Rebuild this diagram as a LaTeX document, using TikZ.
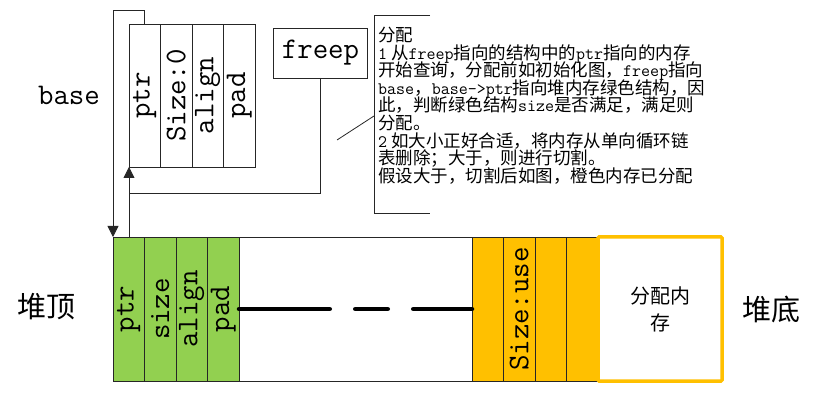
\documentclass[tikz,border=0pt]{standalone}
\usepackage{fontspec}
\newfontfamily\cjk{Noto Sans CJK SC}
\usepackage{xcolor}
\usetikzlibrary{arrows.meta,positioning}
\definecolor{cellgreen}{HTML}{92D050}
\definecolor{cellgold}{HTML}{FFC000}
\definecolor{wireink}{HTML}{262626}
\newcommand{\lt}[1]{{\ttfamily #1}}
\lineskiplimit=-20pt
\tikzset{
  field/.style={draw=wireink, line width=0.8pt, minimum width=31.5pt, minimum height=143pt, inner sep=0pt, outer sep=0pt, font=\ttfamily\fontsize{30}{30}\selectfont},
  heapcell/.style={field, minimum height=144pt, fill=cellgreen},
  usedcell/.style={heapcell, fill=cellgold},
  tagtext/.style={font=\ttfamily\fontsize{30}{30}\selectfont, inner sep=0pt},
  hanzi/.style={font=\cjk\fontsize{29}{29}\selectfont, inner sep=0pt},
  note/.style={align=left, inner xsep=4pt, inner ysep=12pt, font=\cjk\fontsize{17.5}{17.6}\selectfont},
  wire/.style={draw=wireink, line width=0.8pt},
  link/.style={wire, -{Triangle[length=11pt,width=11pt]}},
  gapline/.style={line width=4.5pt, line cap=round, dash pattern=on 90.75pt off 25.5pt on 32.5pt off 25.5pt on 80pt}
}
\begin{document}
\begin{tikzpicture}[x=1pt,y=-1pt]
  \useasboundingbox (0,0) rectangle (815,401);

  \node[field] (bPtr) at (144.75,95.5) {\rotatebox{90}{ptr}};
  \node[field, right=0pt of bPtr] (bSize) {\rotatebox{90}{Size:0}};
  \node[field, right=0pt of bSize] (bAlign) {\rotatebox{90}{align}};
  \node[field, right=0pt of bAlign] (bPad) {\rotatebox{90}{pad}};
  \node[tagtext, anchor=base] (baseTag) at (69,105) {base};

  \node[field, minimum width=94pt, minimum height=50pt] (freep) at (320.5,53) {freep};

  \node[heapcell] (hPtr) at (128.75,309) {\rotatebox{90}{ptr}};
  \node[heapcell, right=0pt of hPtr] (hSize) {\rotatebox{90}{size}};
  \node[heapcell, right=0pt of hSize] (hAlign) {\rotatebox{90}{align}};
  \node[heapcell, right=0pt of hAlign] (hPad) {\rotatebox{90}{pad}};
  \node[field, minimum width=233pt, minimum height=144pt, right=0pt of hPad] (hFree) {};
  \node[usedcell, right=0pt of hFree] (oA) {};
  \node[usedcell, right=0pt of oA] (oSize) {\rotatebox{90}{Size:use}};
  \node[usedcell, right=0pt of oSize] (oC) {};
  \node[usedcell, right=0pt of oC] (oD) {};
  \node[draw=cellgold, line width=3.5pt, rounded corners=1pt, fill=white, minimum width=124pt, minimum height=144pt, outer sep=0pt, align=center, font=\cjk\fontsize{20}{27}\selectfont, right=0pt of oD] (alloc) {分配内\\存};

  \node[hanzi] (heapTop) at (46,307) {堆顶};
  \node[hanzi] (heapBottom) at (771,309) {堆底};

  \draw[gapline] (hPad.east) -- (oA.west);

  \draw[link] (bPtr.north) -- ++(0,-14) -| (hPtr.north west);
  \coordinate (joinPt) at ([yshift=-26pt]bPtr.south west);
  \draw[link] (freep.south) |- (joinPt) -- (bPtr.south west);
  \draw[wire] (joinPt) -- (joinPt |- hPtr.north);

  \node[note, anchor=north west] (note) at (374,15)
    {分配\\
     \lt{1} 从\lt{freep}指向的结构中的\lt{ptr}指向的内存\\
     开始查询，分配前如初始化图，\lt{freep}指向\\
     \lt{base}，\lt{base->ptr}指向堆内存绿色结构，因\\
     此，判断绿色结构\lt{size}是否满足，满足则\\
     分配。\\
     \lt{2} 如大小正好合适，将内存从单向循环链\\
     表删除；大于，则进行切割。\\
     假设大于，切割后如图，橙色内存已分配};
  \draw[wire] ([xshift=56pt]note.north west) -- (note.north west) -- (note.north west |- 0,213) -- ++(56,0);
  \coordinate (calloutTip) at (337,140);
  \draw[wire] (calloutTip) -- (note.north west |- 0,116);
\end{tikzpicture}
\end{document}
